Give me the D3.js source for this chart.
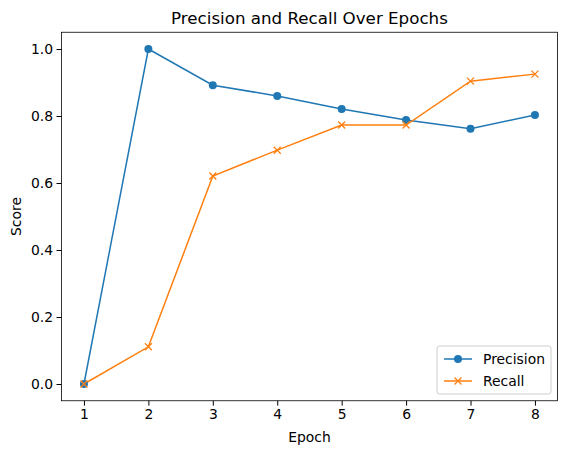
<!DOCTYPE html>
<html><head><meta charset="utf-8">
<script src="https://cdn.jsdelivr.net/npm/d3@7"></script>
<style>body{margin:0;background:#fff}text{font-family:"DejaVu Sans",sans-serif}</style>
</head><body><svg id="c" width="567" height="455"></svg>
<script>
const epochs=[1,2,3,4,5,6,7,8];
const precision=[0,1.0,0.892,0.860,0.821,0.788,0.762,0.803];
const recall=[0,0.111,0.621,0.698,0.773,0.773,0.904,0.925];
const yTicks=[0,0.2,0.4,0.6,0.8,1.0];
const svg=d3.select("#c");
const L=61.4,R=557.5,T=32.25,B=400.75;
const x=d3.scaleLinear().domain([0.65,8.35]).range([L,R]);
const y=d3.scaleLinear().domain([-0.05,1.05]).range([B,T]);
const gx=svg.append("g").attr("transform",`translate(0,${B})`).call(d3.axisBottom(x).tickValues(epochs).tickSize(4.9).tickPadding(3.5).tickFormat(d3.format("d")));
const gy=svg.append("g").attr("transform",`translate(${L},0)`).call(d3.axisLeft(y).tickValues(yTicks).tickSize(4.9).tickPadding(3.5).tickFormat(d3.format(".1f")));
[gx,gy].forEach(g=>{g.select(".domain").remove();g.selectAll("text").attr("font-size",13.9).attr("fill","#000");g.selectAll("line").attr("stroke","#000");});
svg.append("rect").attr("x",L).attr("y",T).attr("width",R-L).attr("height",B-T).attr("fill","none").attr("stroke","#000").attr("stroke-width",0.8);
const line=d3.line().x((d,i)=>x(epochs[i])).y(d=>y(d));
svg.append("path").attr("d",line(precision)).attr("fill","none").attr("stroke","#1f77b4").attr("stroke-width",1.5);
svg.append("path").attr("d",line(recall)).attr("fill","none").attr("stroke","#ff7f0e").attr("stroke-width",1.5);
svg.selectAll(".p").data(precision).enter().append("circle").attr("cx",(d,i)=>x(epochs[i])).attr("cy",d=>y(d)).attr("r",4).attr("fill","#1f77b4");
const cross=(g,cx,cy)=>g.append("path").attr("d",`M${cx-3.5},${cy-3.5}L${cx+3.5},${cy+3.5}M${cx-3.5},${cy+3.5}L${cx+3.5},${cy-3.5}`).attr("stroke","#ff7f0e").attr("stroke-width",1.3);
recall.forEach((d,i)=>cross(svg,x(epochs[i]),y(d)));
svg.append("text").attr("x",(L+R)/2).attr("y",T-8).attr("text-anchor","middle").attr("font-size",16.7).text("Precision and Recall Over Epochs");
svg.append("text").attr("x",(L+R)/2).attr("y",442).attr("text-anchor","middle").attr("font-size",13.9).text("Epoch");
svg.append("text").attr("transform",`translate(21,${(T+B)/2}) rotate(-90)`).attr("text-anchor","middle").attr("font-size",13.9).text("Score");
const lg=svg.append("g");
lg.append("rect").attr("x",437).attr("y",346).attr("width",114).attr("height",48).attr("rx",2.5).attr("fill","#fff").attr("fill-opacity",0.8).attr("stroke","#ccc");
[["Precision","#1f77b4",359],["Recall","#ff7f0e",381]].forEach(([t,c,yy],k)=>{
 lg.append("line").attr("x1",444).attr("x2",472).attr("y1",yy).attr("y2",yy).attr("stroke",c).attr("stroke-width",1.5);
 if(k==0)lg.append("circle").attr("cx",458).attr("cy",yy).attr("r",4).attr("fill",c);else cross(lg,458,yy);
 lg.append("text").attr("x",483).attr("y",yy+5).attr("font-size",13.9).text(t);
});
</script></body></html>
